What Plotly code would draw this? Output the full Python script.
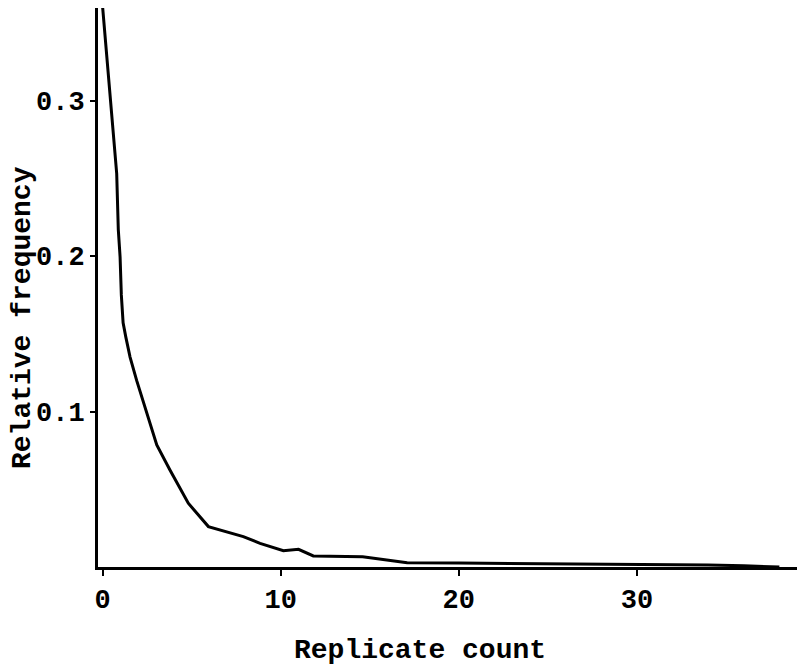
import plotly.graph_objects as go

# Data
replicate_count = [0, 0.42, 0.79, 0.88, 0.98, 1.05, 1.15, 1.3, 1.54, 1.91, 2.38, 2.76,
                   3.04, 3.78, 4.81, 5.94, 7.9, 8.84, 10.15, 11.0, 11.83, 14.6, 17.1,
                   20, 25, 29.8, 34, 36, 38.0]
relative_frequency = [0.36, 0.30, 0.253, 0.217, 0.1995, 0.175, 0.157, 0.148, 0.135,
                      0.120, 0.103, 0.088, 0.0785, 0.0624, 0.041, 0.026, 0.0195, 0.0152,
                      0.0105, 0.0114, 0.0071, 0.0066, 0.0028, 0.0025, 0.0022, 0.0019,
                      0.0013, 0.0008, 0.0]
x_ticks = [0, 10, 20, 30]
y_ticks = [0.1, 0.2, 0.3]
y_tick_labels = ["0.1", "0.2", "0.3"]

FONT = "Liberation Mono, Courier New, monospace"

fig = go.Figure()
fig.add_trace(go.Scatter(
    x=replicate_count, y=relative_frequency, mode="lines",
    line=dict(color="black", width=3), showlegend=False, hoverinfo="skip",
    cliponaxis=False,
))

fig.update_layout(
    width=797, height=660,
    margin=dict(l=90, r=0, t=0, b=101),
    paper_bgcolor="white", plot_bgcolor="white",
    font=dict(family=FONT, size=27, color="black"),
    xaxis=dict(
        range=[-0.26, 39.44], tickvals=x_ticks, ticktext=[str(v) for v in x_ticks],
        showline=True, linecolor="black", linewidth=3, showgrid=False, zeroline=False,
        ticks="outside", ticklen=6, tickwidth=2, tickcolor="black",
        tickfont=dict(family=FONT, size=27, color="black", weight="bold"),
    ),
    yaxis=dict(
        range=[0, 0.3595], tickvals=y_ticks, ticktext=y_tick_labels,
        showline=True, linecolor="black", linewidth=3, showgrid=False, zeroline=False,
        ticks="outside", ticklen=5, tickwidth=2, tickcolor="black",
        tickfont=dict(family=FONT, size=27, color="black", weight="bold"),
    ),
    annotations=[
        dict(text="<b>Replicate count</b>", xref="paper", yref="paper",
             x=(412 - 90) / 707, y=-(650 - 567) / 559, showarrow=False,
             xanchor="center", yanchor="middle",
             font=dict(family=FONT, size=28, color="black")),
        dict(text="<b>Relative frequency</b>", xref="paper", yref="paper",
             x=-(90 - 14) / 707, y=(567 - 318) / 559, showarrow=False, textangle=-90,
             xanchor="center", yanchor="middle",
             font=dict(family=FONT, size=28, color="black")),
    ],
)

fig.write_html("out.html")
